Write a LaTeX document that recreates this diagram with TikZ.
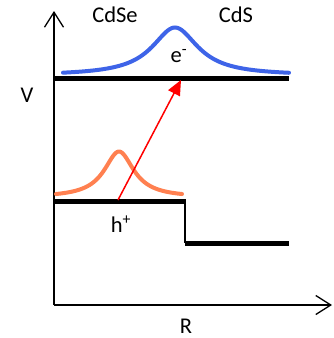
\documentclass[tikz,border=0pt]{standalone}
\usepackage{fontspec}
\setmainfont{Carlito}
\usetikzlibrary{arrows.meta}
\definecolor{eblue}{RGB}{62,100,232}
\definecolor{horange}{RGB}{255,128,80}
\definecolor{arrred}{RGB}{255,0,0}
\tikzset{
  band/.style={line width=5pt},
  axisline/.style={line width=1.3pt, -{Straight Barb[length=15pt,width=19pt,line width=1.3pt]}},
  lbl/.style={font=\fontsize{22.5}{26}\selectfont, inner sep=0pt},
  wave/.style={line width=4pt, line cap=round},
}
\begin{document}
\begin{tikzpicture}[x=1pt,y=-1pt]
\useasboundingbox (0,0) rectangle (334,338);
% axes
\coordinate (origin) at (54,305);
\coordinate (ytip) at (54,11);
\coordinate (xtip) at (332,305);
\draw[axisline] (origin) -- (ytip);
\draw[axisline] (origin) -- (xtip);
% bands
\coordinate (cbL) at (54,78);
\coordinate (cbR) at (289,78);
\coordinate (vbL) at (54,201);
\coordinate (vbR) at (185,201);
\coordinate (stepTop) at (185,199);
\coordinate (stepBot) at (185,243);
\coordinate (vb2L) at (185,243);
\coordinate (vb2R) at (289,243);
\draw[band] (cbL) -- (cbR);
\draw[band] (vbL) -- (vbR);
\draw[line width=2pt] (stepTop) -- (stepBot);
\draw[band] (vb2L) -- (vb2R);
% wavefunctions
\draw[wave, eblue] plot[domain=63:289, samples=120, smooth] (\x, {75.5 - 48/(1+((\x-175)/28)^2)});
\draw[wave, horange] plot[domain=56:182, samples=100, smooth] (\x, {197.5 - 46/(1+((\x-119)/18)^2)});
% excitation arrow
\coordinate (exStart) at (118,200);
\coordinate (exEnd) at (181,80);
\draw[arrred, line width=1.5pt, -{Triangle[length=15pt,width=13pt]}] (exStart) -- (exEnd);
% labels
\node[lbl] (cdse) at (115,15) {CdSe};
\node[lbl] (cds) at (236,15) {CdS};
\node[lbl] (elec) at (179,56) {e\textsuperscript{-}};
\node[lbl] (hole) at (121,224) {h\textsuperscript{+}};
\node[lbl] (vlab) at (27,95) {V};
\node[lbl] (rlab) at (186,326) {R};
\end{tikzpicture}
\end{document}
